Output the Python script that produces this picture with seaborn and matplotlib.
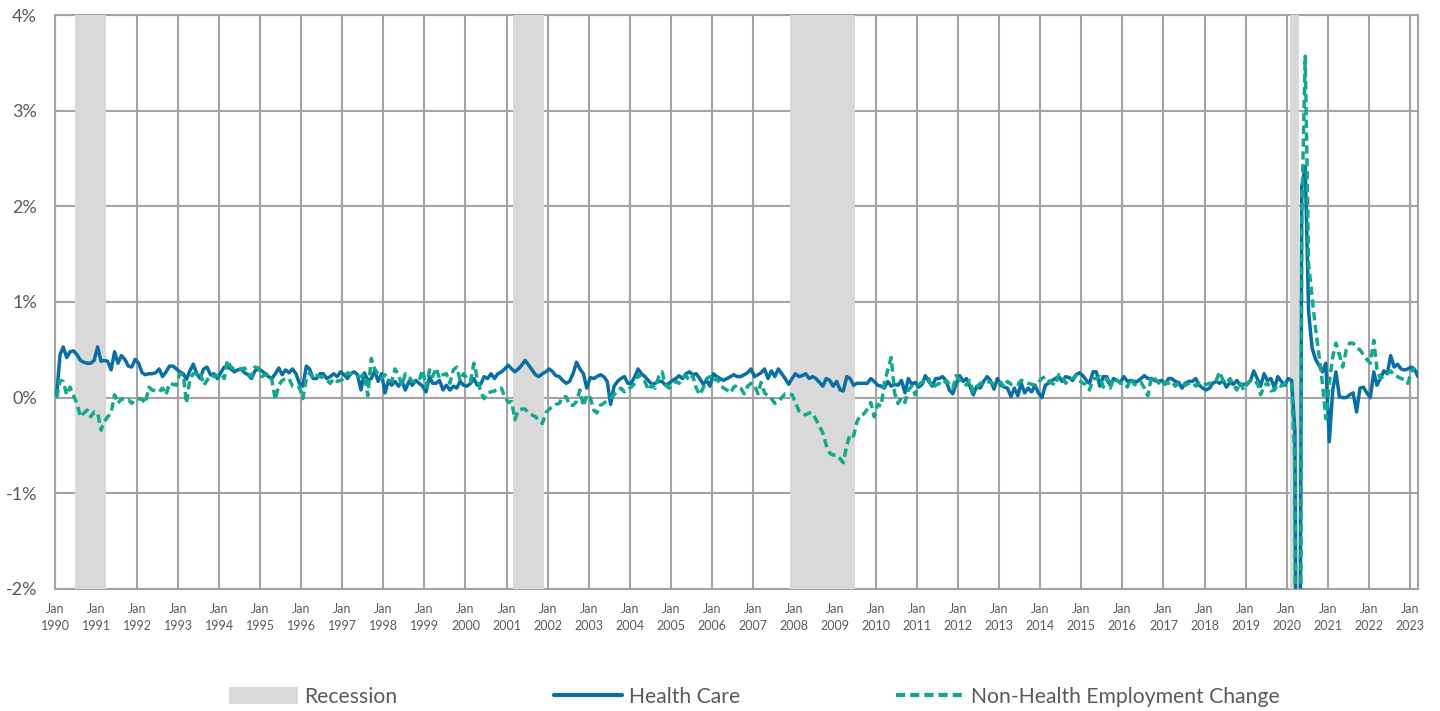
import pandas as pd
import numpy as np
import matplotlib
matplotlib.use("Agg")
import matplotlib.pyplot as plt
from matplotlib.patches import Patch
from matplotlib.lines import Line2D
import seaborn as sns

# -----------------------------
# Data: monthly employment change (%), Jan 1990 - Mar 2023
# -----------------------------
health_care = [
    0.02, 0.45, 0.53, 0.42, 0.48, 0.49, 0.45, 0.39, 0.37, 0.36, 0.36, 0.39,   # 1990
    0.53, 0.38, 0.39, 0.38, 0.29, 0.48, 0.36, 0.44, 0.40, 0.33, 0.32, 0.40,   # 1991
    0.36, 0.26, 0.24, 0.25, 0.25, 0.26, 0.30, 0.22, 0.27, 0.33, 0.33, 0.30,   # 1992
    0.27, 0.25, 0.19, 0.28, 0.35, 0.25, 0.20, 0.30, 0.32, 0.24, 0.25, 0.20,   # 1993
    0.26, 0.32, 0.32, 0.30, 0.27, 0.29, 0.30, 0.26, 0.24, 0.20, 0.28, 0.30,   # 1994
    0.28, 0.25, 0.22, 0.20, 0.25, 0.31, 0.24, 0.29, 0.26, 0.30, 0.25, 0.15,   # 1995
    0.12, 0.33, 0.30, 0.20, 0.20, 0.25, 0.25, 0.20, 0.22, 0.25, 0.22, 0.27,   # 1996
    0.24, 0.20, 0.25, 0.27, 0.24, 0.08, 0.26, 0.18, 0.20, 0.28, 0.17, 0.25,   # 1997
    0.05, 0.18, 0.13, 0.17, 0.12, 0.17, 0.08, 0.17, 0.13, 0.18, 0.15, 0.12,   # 1998
    0.06, 0.22, 0.15, 0.15, 0.18, 0.08, 0.13, 0.08, 0.12, 0.10, 0.17, 0.13,   # 1999
    0.12, 0.15, 0.20, 0.13, 0.14, 0.22, 0.20, 0.25, 0.20, 0.25, 0.27, 0.30,   # 2000
    0.34, 0.30, 0.27, 0.30, 0.34, 0.39, 0.34, 0.29, 0.24, 0.22, 0.25, 0.27,   # 2001
    0.30, 0.27, 0.23, 0.22, 0.18, 0.15, 0.17, 0.25, 0.37, 0.30, 0.25, 0.10,   # 2002
    0.21, 0.20, 0.22, 0.24, 0.22, 0.17, -0.07, 0.12, 0.17, 0.20, 0.22, 0.15,  # 2003
    0.15, 0.22, 0.30, 0.25, 0.22, 0.18, 0.14, 0.15, 0.17, 0.17, 0.13, 0.15,   # 2004
    0.18, 0.20, 0.23, 0.20, 0.25, 0.27, 0.24, 0.25, 0.20, 0.14, 0.18, 0.12,   # 2005
    0.25, 0.22, 0.20, 0.18, 0.20, 0.22, 0.24, 0.22, 0.22, 0.24, 0.26, 0.30,   # 2006
    0.22, 0.24, 0.26, 0.30, 0.20, 0.28, 0.22, 0.30, 0.25, 0.20, 0.14, 0.20,   # 2007
    0.25, 0.22, 0.23, 0.25, 0.20, 0.22, 0.20, 0.16, 0.12, 0.20, 0.18, 0.12,   # 2008
    0.17, 0.08, 0.07, 0.22, 0.20, 0.13, 0.15, 0.15, 0.15, 0.15, 0.20, 0.17,   # 2009
    0.13, 0.12, 0.10, 0.17, 0.12, 0.14, 0.13, 0.18, 0.05, 0.20, 0.14, 0.16,   # 2010
    0.11, 0.14, 0.23, 0.17, 0.12, 0.20, 0.20, 0.22, 0.18, 0.08, 0.04, 0.15,   # 2011
    0.23, 0.17, 0.20, 0.12, 0.03, 0.12, 0.10, 0.17, 0.22, 0.18, 0.09, 0.20,   # 2012
    0.13, 0.11, 0.10, 0.01, 0.10, 0.02, 0.15, 0.05, 0.10, 0.06, 0.13, 0.05,   # 2013
    0.00, 0.13, 0.15, 0.18, 0.20, 0.22, 0.17, 0.22, 0.21, 0.18, 0.24, 0.26,   # 2014
    0.23, 0.18, 0.15, 0.27, 0.27, 0.12, 0.22, 0.22, 0.13, 0.20, 0.18, 0.16,   # 2015
    0.22, 0.17, 0.18, 0.17, 0.17, 0.20, 0.23, 0.20, 0.20, 0.18, 0.17, 0.18,   # 2016
    0.14, 0.20, 0.20, 0.17, 0.16, 0.10, 0.15, 0.17, 0.17, 0.20, 0.13, 0.10,   # 2017
    0.08, 0.10, 0.15, 0.17, 0.15, 0.18, 0.11, 0.16, 0.14, 0.18, 0.13, 0.14,   # 2018
    0.14, 0.18, 0.28, 0.20, 0.12, 0.25, 0.18, 0.20, 0.10, 0.22, 0.17, 0.13,   # 2019
    0.20, 0.18, -0.35, -8.50, 2.20, 2.42, 0.90, 0.52, 0.40, 0.34, 0.27, 0.36, # 2020
    -0.46, 0.08, 0.27, 0.01, 0.00, 0.00, 0.03, 0.05, -0.15, 0.10, 0.11, 0.05, # 2021
    0.00, 0.27, 0.13, 0.20, 0.28, 0.25, 0.44, 0.32, 0.35, 0.30, 0.29, 0.30,   # 2022
    0.32, 0.29, 0.22,                                                         # 2023
]

non_health = [
    0.00, 0.18, 0.17, 0.03, 0.11, 0.02, -0.06, -0.20, -0.16, -0.13, -0.20, -0.15,  # 1990
    -0.16, -0.34, -0.25, -0.20, -0.16, 0.03, -0.06, -0.01, -0.03, -0.02, -0.06, -0.02,  # 1991
    -0.01, -0.02, -0.06, 0.11, 0.08, 0.07, 0.06, 0.10, 0.03, 0.15, 0.14, 0.13,   # 1992
    0.25, 0.24, -0.06, 0.20, 0.25, 0.25, 0.27, 0.13, 0.18, 0.24, 0.22, 0.23,    # 1993
    0.25, 0.20, 0.39, 0.32, 0.30, 0.31, 0.30, 0.31, 0.25, 0.22, 0.32, 0.31,     # 1994
    0.22, 0.24, 0.25, 0.18, -0.02, 0.13, 0.18, 0.20, 0.20, 0.12, 0.11, 0.11,    # 1995
    -0.01, 0.20, 0.26, 0.20, 0.23, 0.22, 0.21, 0.18, 0.15, 0.20, 0.17, 0.18,    # 1996
    0.20, 0.26, 0.25, 0.23, 0.22, 0.22, 0.25, 0.02, 0.41, 0.30, 0.25, 0.20,     # 1997
    0.24, 0.18, 0.17, 0.30, 0.23, 0.13, 0.25, 0.22, 0.17, 0.17, 0.18, 0.29,     # 1998
    0.11, 0.29, 0.22, 0.31, 0.20, 0.24, 0.25, 0.15, 0.29, 0.32, 0.18, 0.25,     # 1999
    0.20, 0.17, 0.36, 0.20, 0.06, -0.01, 0.05, 0.06, 0.07, 0.10, 0.10, 0.01,    # 2000
    -0.05, -0.04, -0.23, -0.13, -0.12, -0.12, -0.16, -0.18, -0.20, -0.24, -0.27, -0.16,  # 2001
    -0.12, -0.09, -0.07, -0.06, 0.01, 0.01, -0.08, -0.08, -0.04, 0.08, -0.09, 0.03,     # 2002
    0.00, -0.13, -0.16, -0.08, -0.06, -0.03, 0.00, 0.03, 0.07, 0.10, 0.06, 0.09,  # 2003
    0.11, 0.15, 0.24, 0.20, 0.17, 0.08, 0.13, 0.10, 0.22, 0.27, 0.13, 0.10,     # 2004
    0.13, 0.17, 0.15, 0.20, 0.23, 0.18, 0.23, 0.10, 0.03, 0.10, 0.20, 0.22,     # 2005
    0.17, 0.20, 0.14, 0.10, 0.08, 0.05, 0.11, 0.13, 0.10, 0.04, 0.12, 0.15,     # 2006
    0.13, 0.04, 0.16, 0.05, 0.02, -0.01, -0.06, -0.04, 0.00, 0.04, 0.04, 0.03,  # 2007
    -0.05, -0.14, -0.17, -0.18, -0.16, -0.16, -0.23, -0.30, -0.37, -0.50, -0.58, -0.60,  # 2008
    -0.60, -0.64, -0.68, -0.50, -0.38, -0.40, -0.25, -0.18, -0.17, -0.12, -0.05, -0.20,  # 2009
    -0.07, -0.09, 0.15, 0.29, 0.42, 0.05, -0.06, 0.00, -0.05, 0.08, 0.12, 0.03,  # 2010
    0.14, 0.16, 0.17, 0.20, 0.10, 0.13, 0.15, 0.13, 0.18, 0.14, 0.10, 0.23,     # 2011
    0.18, 0.16, 0.13, 0.18, 0.06, 0.11, 0.15, 0.16, 0.17, 0.16, 0.14, 0.13,     # 2012
    0.16, 0.11, 0.17, 0.14, 0.15, 0.14, 0.18, 0.17, 0.15, 0.14, 0.13, 0.16,     # 2013
    0.20, 0.22, 0.18, 0.15, 0.13, 0.24, 0.22, 0.15, 0.20, 0.20, 0.23, 0.18,     # 2014
    0.15, 0.14, 0.08, 0.20, 0.20, 0.22, 0.11, 0.20, 0.10, 0.20, 0.18, 0.15,     # 2015
    0.16, 0.11, 0.20, 0.14, 0.13, 0.16, 0.10, 0.02, 0.22, 0.20, 0.16, 0.12,     # 2016
    0.16, 0.15, 0.17, 0.12, 0.15, 0.16, 0.13, 0.15, 0.16, 0.12, 0.15, 0.13,     # 2017
    0.14, 0.15, 0.15, 0.18, 0.27, 0.18, 0.15, 0.20, 0.14, 0.08, 0.16, 0.08,     # 2018
    0.15, 0.18, 0.15, 0.16, 0.03, 0.12, 0.16, 0.07, 0.08, 0.14, 0.12, 0.15,     # 2019
    0.16, 0.14, -0.70, -14.50, 1.90, 3.57, 1.40, 1.05, 0.72, 0.45, 0.15, -0.22,  # 2020
    0.15, 0.43, 0.57, 0.45, 0.32, 0.50, 0.57, 0.57, 0.52, 0.50, 0.45, 0.40,     # 2021
    0.36, 0.60, 0.30, 0.20, 0.23, 0.25, 0.28, 0.23, 0.22, 0.20, 0.19, 0.15,     # 2022
    0.27, 0.32, np.nan,                                                         # 2023
]

recessions = [("1990-07-01", "1991-03-31"), ("2001-03-01", "2001-11-30"),
              ("2007-12-01", "2009-06-30"), ("2020-02-01", "2020-04-20")]

tick_years = list(range(1990, 2024))
y_ticks = [-2, -1, 0, 1, 2, 3, 4]

BLUE = "#0a6ea6"
GREEN = "#12a98b"
REC_GRAY = "#d9d9d9"
GRID = "#a3a3a3"
TEXT = "#5a5a5a"

months = pd.date_range("1990-01-01", periods=len(health_care), freq="MS") + pd.Timedelta(days=14)
df = pd.DataFrame({"month": months,
                   "Health Care": health_care,
                   "Non-Health Employment Change": non_health})

# -----------------------------
# Plot
# -----------------------------
sns.set_style("white")
plt.rcParams["font.family"] = ["Lato", "DejaVu Sans"]

fig = plt.figure(figsize=(14.4, 7.11), dpi=100)
ax = fig.add_axes([0.0382, 0.1716, 0.9465, 0.8073])

for start, end in recessions:
    ax.axvspan(pd.Timestamp(start), pd.Timestamp(end), color=REC_GRAY, lw=0, zorder=1)

sns.lineplot(data=df, x="month", y="Health Care", color=BLUE, lw=2.5, ax=ax, zorder=3)
sns.lineplot(data=df, x="month", y="Non-Health Employment Change", color=GREEN, lw=2.5,
             ax=ax, zorder=4)
ax.lines[-1].set_dashes([2.4, 1.3])

ax.set_xlim(pd.Timestamp("1990-01-01"), pd.Timestamp("2023-03-15"))
ax.set_ylim(-2, 4)

ax.set_xticks([pd.Timestamp(f"{y}-01-01") for y in tick_years])
ax.set_xticklabels([f"Jan\n{y}" for y in tick_years], fontsize=9, color=TEXT, linespacing=1.5)
ax.set_yticks(y_ticks)
ax.set_yticklabels([f"{v}%" for v in y_ticks], fontsize=13, color=TEXT)
ax.tick_params(axis="x", length=0, pad=10)
ax.tick_params(axis="y", length=7, width=1.5, color=GRID, pad=6)
ax.set_xlabel("")
ax.set_ylabel("")

ax.set_axisbelow(True)
ax.grid(True, color=GRID, lw=1.5)
for s in ax.spines.values():
    s.set_color(GRID)
    s.set_linewidth(1.5)
    s.set_zorder(0.6)

handles = [Patch(facecolor=REC_GRAY, edgecolor="none"),
           Line2D([], [], color=BLUE, lw=3),
           Line2D([], [], color=GREEN, lw=3, dashes=[2.2, 1.2])]
labels = ["Recession", "Health Care", "Non-Health Employment Change"]
fig.legend(handles, labels, loc="center", bbox_to_anchor=(0.524, 0.02), ncol=3,
           frameon=False, fontsize=15.2, labelcolor=TEXT, handlelength=3.25,
           handleheight=0.8, handletextpad=0.3, columnspacing=7.4)

fig.savefig("out.png", dpi=100)
